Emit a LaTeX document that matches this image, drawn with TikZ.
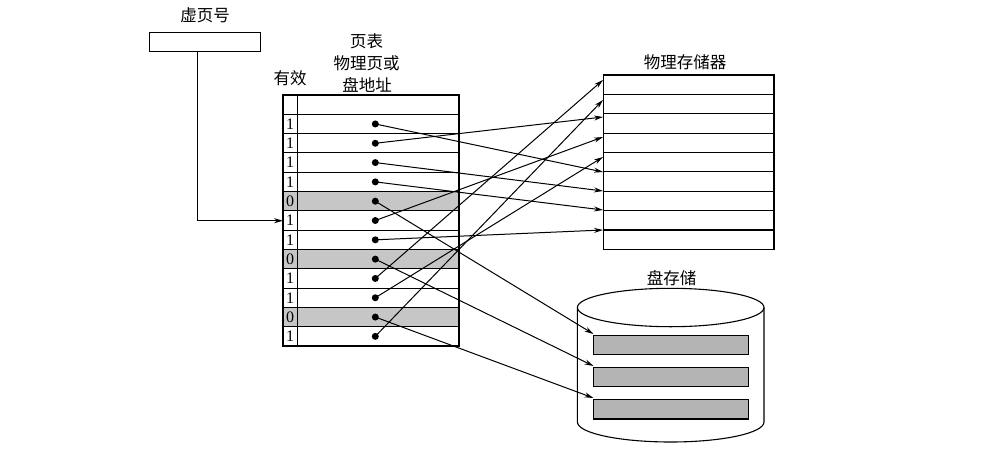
\documentclass[tikz,border=0pt]{standalone}
\usepackage{fontspec}
\setmainfont{Liberation Serif}
\newfontfamily\cjk{Noto Sans CJK SC}
\usetikzlibrary{arrows.meta}
\definecolor{rowgray}{HTML}{C6C6C6}
\definecolor{blkgray}{HTML}{B4B4B4}
\begin{document}
\begin{tikzpicture}[x=1pt,y=-1pt,
  thin line/.style={line width=1.1pt},
  link/.style={draw, line width=1pt, -{Stealth[length=9pt,width=5pt]}},
  dot/.style={circle, fill=black, inner sep=0pt, minimum size=7pt},
  lbl/.style={font=\cjk\fontsize{16.5}{18}\selectfont, inner sep=0pt},
  digit/.style={font=\fontsize{16}{18}\selectfont, inner sep=0pt},
  blk/.style={draw, fill=blkgray, line width=1.1pt}]
\useasboundingbox (0,0) rectangle (989,448);
% labels
\node[lbl] (vpnlbl) at (205,15) {虚页号};
\node[draw, thin line, minimum width=111.4pt, minimum height=18.7pt, inner sep=0pt] (vbox) at (205,41.7) {};
\node[lbl] (ptlbl) at (366.7,41.7) {页表};
\node[lbl] (addr1) at (366.7,63.3) {物理页或};
\node[lbl] (addr2) at (367,85) {盘地址};
\node[lbl] (valid) at (290,78.3) {有效};
\node[lbl] (pmlbl) at (685,62.7) {物理存储器};
\node[lbl] (disklbl) at (671.7,278.3) {盘存储};
% page table
\foreach \r in {5,8,11}
  \fill[rowgray] (283,{114.3+(\r-1)*19.31}) rectangle (459,{114.3+\r*19.31});
\draw[thin line] (283,95) rectangle (459,346);
\draw[thin line] (297.3,95) -- (297.3,346);
\foreach \i in {0,...,11}
  \draw[thin line] (283,{114.3+\i*19.31}) -- (459,{114.3+\i*19.31});
\foreach \v [count=\i] in {1,1,1,1,0,1,1,0,1,1,0,1}
  \node[digit] (v\i) at (290,{114.3+(\i-0.5)*19.31}) {\v};
\foreach \i in {1,...,12}
  \node[dot] (d\i) at (375.3,{114.3+(\i-0.5)*19.31}) {};
% physical memory
\draw[thin line] (603.3,75) rectangle (774,249.3);
\foreach \i in {1,...,8}
  \draw[thin line] (603.3,{75+\i*19.37}) -- (774,{75+\i*19.37});
% disk
\draw[thin line, fill=white] (577.4,307.5) -- (577.4,422)
  arc[start angle=180, end angle=360, x radius=93.3pt, y radius=20pt] -- (764,307.5);
\draw[thin line] (670.7,307.5) ellipse [x radius=93.3pt, y radius=19.2pt];
\draw[blk] (593.3,335.7) rectangle (748.3,354.3);
\draw[blk] (593.3,367.3) rectangle (748.3,386.7);
\draw[blk] (593.3,399.3) rectangle (748.3,419);
% targets
\coordinate (m1) at (603,80);
\coordinate (m2) at (603,100);
\coordinate (m3) at (603,117);
\coordinate (m4) at (603,137);
\coordinate (m5) at (603,157);
\coordinate (m6) at (603,172);
\coordinate (m7) at (603,191);
\coordinate (m8) at (603,210);
\coordinate (m9) at (603,230);
\coordinate (k1) at (593.5,334);
\coordinate (k2) at (593.5,366);
\coordinate (k3) at (593.5,398);
\coordinate (pin) at (283,220.7);
% connectors
\draw[link] ([xshift=-7.3pt]vbox.south) |- (pin);
\draw[link] (d1.center) -- (m6);
\draw[link] (d2.center) -- (m3);
\draw[link] (d3.center) -- (m7);
\draw[link] (d4.center) -- (m8);
\draw[link] (d5.center) -- (k1);
\draw[link] (d6.center) -- (m4);
\draw[link] (d7.center) -- (m9);
\draw[link] (d8.center) -- (k2);
\draw[link] (d9.center) -- (m1);
\draw[link] (d10.center) -- (m5);
\draw[link] (d11.center) -- (k3);
\draw[link] (d12.center) -- (m2);
\end{tikzpicture}
\end{document}
